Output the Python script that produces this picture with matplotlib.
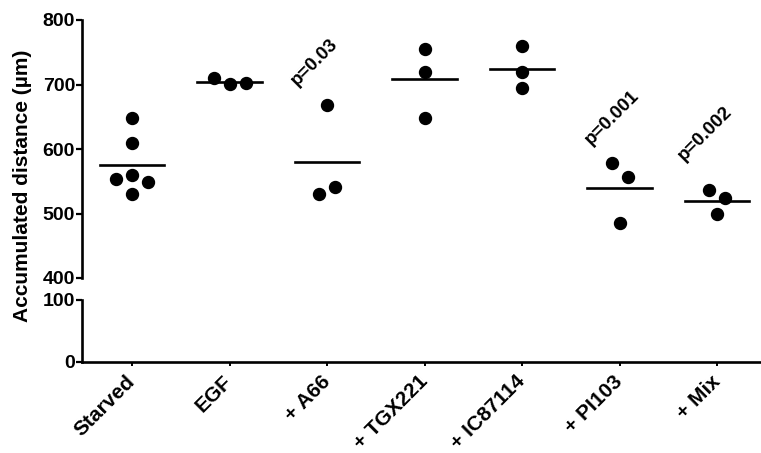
import matplotlib
matplotlib.use("Agg")
import matplotlib.pyplot as plt
import numpy as np

plt.rcParams['font.family'] = ['Liberation Sans', 'DejaVu Sans']
plt.rcParams['font.weight'] = 'bold'

# data (um)
groups = ['Starved', 'EGF', '+ A66', '+ TGX221', '+ IC87114', '+ PI103', '+ Mix']
starved = [648, 610, 559, 553, 549, 530]
egf = [701, 710, 702]
a66 = [668, 541, 530]
tgx221 = [755, 720, 648.5]
ic87114 = [760, 720, 694]
pi103 = [556, 578, 485]
mix = [524, 536, 499]
values = [starved, egf, a66, tgx221, ic87114, pi103, mix]

# p values shown over some groups
p_groups = ['+ A66', '+ PI103', '+ Mix']
p_texts = ['p=0.03', 'p=0.001', 'p=0.002']


def swarm(ax, xc, vals, step=16.0, hit=15.0):
    # simple beeswarm in pixel space, clusters re-centred on the category
    pts = ax.transData.transform(np.column_stack([np.full(len(vals), xc), vals]))
    x0 = pts[0, 0]
    xs = []
    parent = list(range(len(vals)))

    def find(i):
        while parent[i] != i:
            i = parent[i]
        return i

    for i, (_, y) in enumerate(pts):
        hits0 = [j for j in range(i) if np.hypot(x0 - xs[j], y - pts[j, 1]) < hit]
        for j in hits0:
            parent[find(j)] = find(i)
        for k in [0, -1, 1, -2, 2, -3, 3]:
            x = x0 + k * step
            if all(np.hypot(x - xs[j], y - pts[j, 1]) >= hit for j in range(i)):
                break
        xs.append(x)
    xs = np.array(xs)
    roots = np.array([find(i) for i in range(len(vals))])
    for r in set(roots):
        m = roots == r
        xs[m] -= xs[m].mean() - x0
    back = ax.transData.inverted().transform(np.column_stack([xs, pts[:, 1]]))
    return back[:, 0]


W, H = 761, 453
fig = plt.figure(figsize=(W / 100, H / 100), dpi=100)
fig.patch.set_facecolor('white')

left = 82 / W
width = 1 - left
x_lim = (-0.513, 6.451)

ax_top = fig.add_axes([left, (H - 278) / H, width, 258 / H])
ax_bot = fig.add_axes([left, (H - 362) / H, width, 62 / H])

for ax in (ax_top, ax_bot):
    ax.set_xlim(*x_lim)
    ax.spines['top'].set_visible(False)
    ax.spines['right'].set_visible(False)
    ax.spines['left'].set_linewidth(1.9)
    ax.spines['bottom'].set_linewidth(1.9)
    ax.tick_params(axis='y', direction='out', length=4, width=1.6, labelsize=14, pad=1)
    ax.set_facecolor('none')

ax_top.set_ylim(400, 800)
ax_top.set_yticks([400, 500, 600, 700, 800])
ax_top.spines['bottom'].set_visible(False)
ax_top.set_xticks([])

ax_bot.set_ylim(0, 100)
ax_bot.set_yticks([0, 100])
xpos = np.arange(len(groups))
ax_bot.set_xticks(xpos)
ax_bot.set_xticklabels(groups, rotation=45, ha='right', va='center',
                       rotation_mode='anchor', fontsize=15, fontweight='bold')
ax_bot.tick_params(axis='x', direction='out', length=3, width=1.4, pad=9)

for i, vals in enumerate(values):
    xs = swarm(ax_top, i, vals)
    ax_top.plot(xs, vals, 'o', color='black', ms=8.6, clip_on=False)
    m = np.mean(vals)
    ax_top.plot([i - 0.33, i + 0.33], [m, m], color='black', lw=1.9)

# p value labels, rotated like in the figure
p_pos = [(1.877, 734), (4.93, 649), (5.877, 624)]
for g, t, (px, py) in zip(p_groups, p_texts, p_pos):
    ax_top.text(px, py, t, rotation=45, ha='center', va='center',
                rotation_mode='anchor', fontsize=13.5, fontweight='bold')

fig.text(22.5 / W, 1 - 186 / H, 'Accumulated distance (µm)', rotation=90,
         ha='center', va='center', fontsize=15, fontweight='bold')

fig.savefig('out.png', dpi=100, facecolor='white')
